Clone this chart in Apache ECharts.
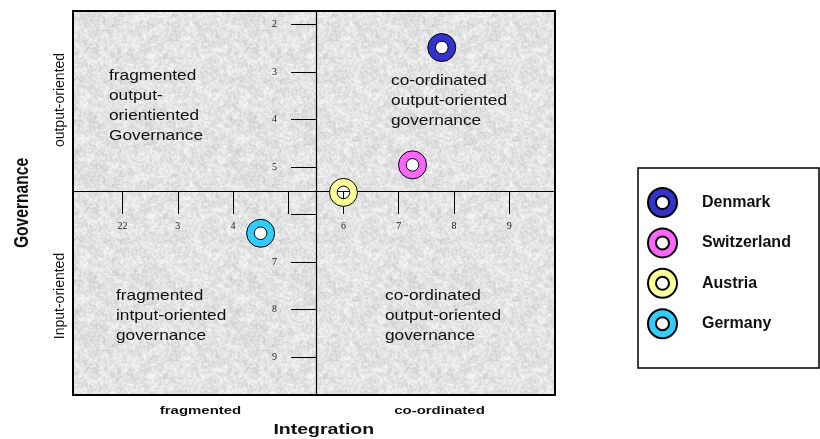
<!DOCTYPE html>
<html><head><meta charset="utf-8">
<script src="https://cdn.jsdelivr.net/npm/echarts@6/dist/echarts.min.js"></script>
<style>html,body{margin:0;padding:0;background:#fff}#chart{width:820px;height:439px}</style>
</head><body><div id="chart"></div>
<script>
// ---- data ----
const countries = ['Denmark', 'Switzerland', 'Austria', 'Germany'];
const integration = [7.78, 7.25, 6.0, 4.5];
const governance = [2.48, 4.95, 5.53, 6.39];
const countryColors = ['#3333cc', '#ff66ff', '#ffff99', '#33ccff'];
const xTickValues = [2, 3, 4, 5, 6, 7, 8, 9];
const xTickLabels = ['22', '3', '4', '', '6', '7', '8', '9'];
const yTickValues = [2, 3, 4, 5, 6, 7, 8, 9];
const yTickLabels = ['2', '3', '4', '5', '', '7', '8', '9'];
const quadrantTexts = [
  'fragmented\noutput-\norientiented\nGovernance',
  'co-ordinated\noutput-oriented\ngovernance',
  'fragmented\nintput-oriented\ngovernance',
  'co-ordinated\noutput-oriented\ngovernance'
];
const xCategoryLabels = ['fragmented', 'co-ordinated'];
const yCategoryLabels = ['output-oriented', 'Input-oriented'];
const xTitle = 'Integration';
const yTitle = 'Governance';

// ---- styling helpers ----
const RING = 'path://M14,0A14,14,0,1,1,14,28A14,14,0,1,1,14,0ZM14,7.7A6.3,6.3,0,1,0,14,20.3A6.3,6.3,0,1,0,14,7.7Z';
const SANS = '"Liberation Sans", Arial, sans-serif';
const SERIF = '"Liberation Serif", "Times New Roman", serif';

function hsh(x, y, seed) {
  let h = Math.imul(x, 374761393) + Math.imul(y, 668265263) + Math.imul(seed, 2246822519);
  h = Math.imul(h ^ (h >>> 13), 1274126177);
  h = h ^ (h >>> 16);
  return (h >>> 0) / 4294967295;
}
function vnoise(x, y, s, seed, size) {
  const n = size / s;
  const gx = x / s, gy = y / s;
  const x0 = Math.floor(gx), y0 = Math.floor(gy);
  const fx = gx - x0, fy = gy - y0;
  const xa = x0 % n, xb = (x0 + 1) % n, ya = y0 % n, yb = (y0 + 1) % n;
  const a = hsh(xa, ya, seed), b = hsh(xb, ya, seed), c = hsh(xa, yb, seed), d = hsh(xb, yb, seed);
  return a + (b - a) * fx + (c - a) * fy + (a - b - c + d) * fx * fy;
}
function makeTexture() {
  const size = 160;
  const c = document.createElement('canvas');
  c.width = c.height = size;
  const ctx = c.getContext('2d');
  const img = ctx.createImageData(size, size);
  for (let y = 0; y < size; y++) {
    for (let x = 0; x < size; x++) {
      let v = 227 + (hsh(x, y, 7) - 0.5) * 16 + (vnoise(x, y, 2, 11, size) - 0.5) * 26 + (vnoise(x, y, 5, 23, size) - 0.5) * 18;
      v = Math.max(185, Math.min(252, v));
      const i = (y * size + x) * 4;
      img.data[i] = img.data[i + 1] = img.data[i + 2] = v;
      img.data[i + 3] = 255;
    }
  }
  ctx.putImageData(img, 0, 0);
  return c;
}

// ---- layout (pixels) ----
const G = { left: 73, top: 11, width: 482, height: 384 };
const X_MIN = 1.103, X_MAX = 9.83, Y_MIN = 1.711, Y_MAX = 9.795;

const chart = echarts.init(document.getElementById('chart'), null, { renderer: 'canvas' });

const points = integration.map((x, i) => [x, governance[i]]);

const option = {
  animation: false,
  backgroundColor: '#ffffff',
  grid: [{
    left: G.left, top: G.top, width: G.width, height: G.height,
    show: true, borderColor: '#000', borderWidth: 2,
    backgroundColor: { image: makeTexture(), repeat: 'repeat' },
    outerBoundsMode: 'none', containLabel: false, z: 0
  }],
  xAxis: [
    { gridIndex: 0, type: 'value', min: X_MIN, max: X_MAX, position: 'top', show: false },
    {
      gridIndex: 0, type: 'value', min: X_MIN, max: X_MAX, position: 'bottom', offset: -204, z: 2,
      axisLine: { show: true, onZero: false, lineStyle: { color: '#000', width: 1.2 } },
      axisTick: { show: true, customValues: xTickValues, length: 23, lineStyle: { color: '#000', width: 1 } },
      axisLabel: {
        show: true, customValues: xTickValues, margin: 30,
        formatter: v => xTickLabels[xTickValues.indexOf(Math.round(v))] || '',
        fontFamily: SERIF, fontSize: 10, color: '#222'
      },
      splitLine: { show: false }
    }
  ],
  yAxis: [
    { gridIndex: 0, type: 'value', min: Y_MIN, max: Y_MAX, inverse: true, position: 'right', show: false },
    {
      gridIndex: 0, type: 'value', min: Y_MIN, max: Y_MAX, inverse: true, position: 'left', offset: -243, z: 2,
      axisLine: { show: true, onZero: false, lineStyle: { color: '#000', width: 1.2 } },
      axisTick: { show: true, customValues: yTickValues, length: 25, lineStyle: { color: '#000', width: 1 } },
      axisLabel: {
        show: true, customValues: yTickValues, margin: 39,
        formatter: v => yTickLabels[yTickValues.indexOf(Math.round(v))] || '',
        fontFamily: SERIF, fontSize: 10, color: '#222'
      },
      splitLine: { show: false }
    }
  ],
  legend: {
    data: countries.map(n => ({ name: n, icon: RING })),
    orient: 'vertical', left: 647, top: 187, padding: 0,
    itemWidth: 29, itemHeight: 29, itemGap: 9.4,
    textStyle: { fontFamily: SANS, fontSize: 16, fontWeight: 'bold', color: '#111', padding: [0, 0, 0, 20] },
    selectedMode: false, z: 4
  },
  series: [
    {
      name: '_holes', type: 'scatter', xAxisIndex: 0, yAxisIndex: 0, z: 1, silent: true,
      symbol: 'circle', symbolSize: 13, itemStyle: { color: '#fff', opacity: 1 },
      data: points
    }
  ].concat(countries.map((c, i) => ({
    name: c, type: 'scatter', xAxisIndex: 0, yAxisIndex: 0, z: 3,
    symbol: RING, symbolSize: 28,
    itemStyle: { color: countryColors[i], borderColor: '#000', borderWidth: 1, opacity: 1 },
    data: [points[i]]
  }))),
  graphic: [
    { type: 'rect', z: 0, shape: { x: 638, y: 168, width: 181, height: 200 }, style: { fill: '#fff', stroke: '#000', lineWidth: 1.5 } },
    { type: 'text', x: 109, y: 66, scaleX: 1.15, z: 5, style: { text: quadrantTexts[0], font: '15px ' + SANS, fill: '#111', lineHeight: 20, textVerticalAlign: 'top' } },
    { type: 'text', x: 391, y: 71, scaleX: 1.15, z: 5, style: { text: quadrantTexts[1], font: '15px ' + SANS, fill: '#111', lineHeight: 20, textVerticalAlign: 'top' } },
    { type: 'text', x: 116, y: 286, scaleX: 1.15, z: 5, style: { text: quadrantTexts[2], font: '15px ' + SANS, fill: '#111', lineHeight: 20, textVerticalAlign: 'top' } },
    { type: 'text', x: 385, y: 286, scaleX: 1.15, z: 5, style: { text: quadrantTexts[3], font: '15px ' + SANS, fill: '#111', lineHeight: 20, textVerticalAlign: 'top' } },
    { type: 'text', x: 200.5, y: 411, scaleX: 1.36, z: 5, style: { text: xCategoryLabels[0], font: 'bold 11px ' + SANS, fill: '#111', textAlign: 'center', textVerticalAlign: 'middle' } },
    { type: 'text', x: 439.5, y: 411, scaleX: 1.36, z: 5, style: { text: xCategoryLabels[1], font: 'bold 11px ' + SANS, fill: '#111', textAlign: 'center', textVerticalAlign: 'middle' } },
    { type: 'text', x: 323.8, y: 430, scaleX: 1.3, z: 5, style: { text: xTitle, font: 'bold 15px ' + SANS, fill: '#111', textAlign: 'center', textVerticalAlign: 'middle' } },
    { type: 'text', x: 22, y: 203, rotation: Math.PI / 2, scaleY: 1.35, z: 5, style: { text: yTitle, font: 'bold 15.6px ' + SANS, fill: '#111', textAlign: 'center', textVerticalAlign: 'middle' } },
    { type: 'text', x: 60, y: 100, rotation: Math.PI / 2, z: 5, style: { text: yCategoryLabels[0], font: '14px ' + SANS, fill: '#111', textAlign: 'center', textVerticalAlign: 'middle' } },
    { type: 'text', x: 60, y: 296, rotation: Math.PI / 2, z: 5, style: { text: yCategoryLabels[1], font: '14px ' + SANS, fill: '#111', textAlign: 'center', textVerticalAlign: 'middle' } }
  ]
};
chart.setOption(option);
</script>
</body></html>
